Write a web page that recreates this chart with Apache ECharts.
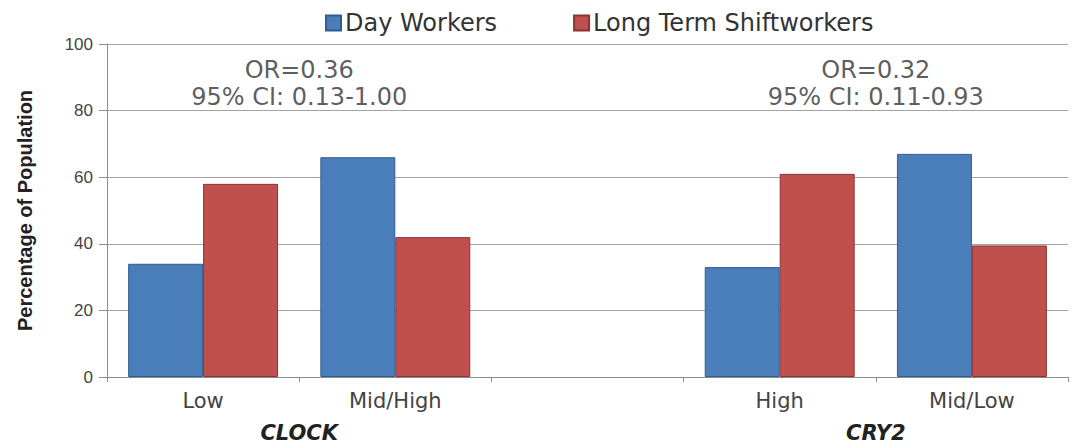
<!DOCTYPE html>
<html>
<head>
<meta charset="utf-8">
<script src="https://cdn.jsdelivr.net/npm/echarts@6/dist/echarts.min.js"></script>
<style>
html,body{margin:0;padding:0;background:#fff;}
#chart{width:1075px;height:444px;}
</style>
</head>
<body>
<div id="chart"></div>
<script>
// ---- data ----
const categories = ['Low', 'Mid/High', '', 'High', 'Mid/Low'];
const dayWorkers = [34, 66, null, 33, 67];
const shiftWorkers = [58, 42, null, 61, 39.5];
const seriesNames = ['Day Workers', 'Long Term Shiftworkers'];
const yTicks = [0, 20, 40, 60, 80, 100];
const groupPositions = [1, 4];
const groupNames = ['CLOCK', 'CRY2'];
const annotationY = 88;
const annotations = ['OR=0.36\n95% CI: 0.13-1.00', 'OR=0.32\n95% CI: 0.11-0.93'];

const FONT = '"Liberation Sans", Arial, sans-serif';
const WIDE = '"DejaVu Sans", "Liberation Sans", sans-serif';
const chart = echarts.init(document.getElementById('chart'), null, {renderer: 'svg'});

const option = {
  animation: false,
  backgroundColor: '#ffffff',
  legend: {
    data: seriesNames,
    left: 320,
    top: 6,
    itemWidth: 15,
    itemHeight: 15,
    itemGap: 76,
    icon: 'rect',
    textStyle: {fontFamily: WIDE, fontSize: 24, color: '#333', padding: [0, 0, 0, -1]}
  },
  grid: {left: 107, right: 7, top: 44, bottom: 67, containLabel: false},
  xAxis: [{
    type: 'category',
    data: categories,
    axisLine: {show: true, lineStyle: {color: '#8c8c8c', width: 1}},
    axisTick: {show: true, alignWithLabel: false, length: 5, lineStyle: {color: '#8c8c8c'}},
    axisLabel: {fontFamily: WIDE, fontSize: 21, color: '#444', margin: 13},
    splitLine: {show: false}
  }, {
    type: 'value',
    position: 'bottom',
    min: 0, max: 5, interval: 1,
    axisLine: {show: false},
    axisTick: {show: false},
    splitLine: {show: false},
    axisLabel: {
      margin: 45,
      fontFamily: WIDE, fontSize: 21, fontWeight: 'bold', fontStyle: 'italic', color: '#222',
      formatter: function (v) {
        const i = groupPositions.indexOf(v);
        return i >= 0 ? groupNames[i] : '';
      }
    }
  }],
  yAxis: {
    type: 'value',
    min: yTicks[0],
    max: yTicks[yTicks.length - 1],
    interval: 20,
    name: 'Percentage of Population',
    nameLocation: 'middle',
    nameGap: 72,
    nameTextStyle: {fontFamily: FONT, fontSize: 20, fontWeight: 'bold', color: '#222'},
    axisLine: {show: true, lineStyle: {color: '#8c8c8c', width: 1}},
    axisTick: {show: true, length: 8, lineStyle: {color: '#8c8c8c'}},
    axisLabel: {fontFamily: FONT, fontSize: 17, color: '#444', margin: 14},
    splitLine: {show: true, lineStyle: {color: '#a3a3a3', width: 1.2}}
  },
  series: [{
    name: seriesNames[0],
    type: 'bar',
    data: dayWorkers,
    barGap: '0%',
    barCategoryGap: '22%',
    itemStyle: {color: '#4A7EBB', borderColor: '#335C8E', borderWidth: 1}
  }, {
    name: seriesNames[1],
    type: 'bar',
    data: shiftWorkers,
    barGap: '0%',
    barCategoryGap: '22%',
    itemStyle: {color: '#C0504D', borderColor: '#8A3432', borderWidth: 1}
  }, {
    type: 'scatter',
    xAxisIndex: 1,
    yAxisIndex: 0,
    symbolSize: 1,
    itemStyle: {color: 'rgba(0,0,0,0)'},
    silent: true,
    data: groupPositions.map((x, i) => ({value: [x, annotationY], text: annotations[i]})),
    label: {
      show: true,
      position: 'inside',
      formatter: p => p.data.text,
      fontFamily: WIDE, fontSize: 24, lineHeight: 27, color: '#333', align: 'center'
    }
  }]
};
chart.setOption(option);
</script>
</body>
</html>
